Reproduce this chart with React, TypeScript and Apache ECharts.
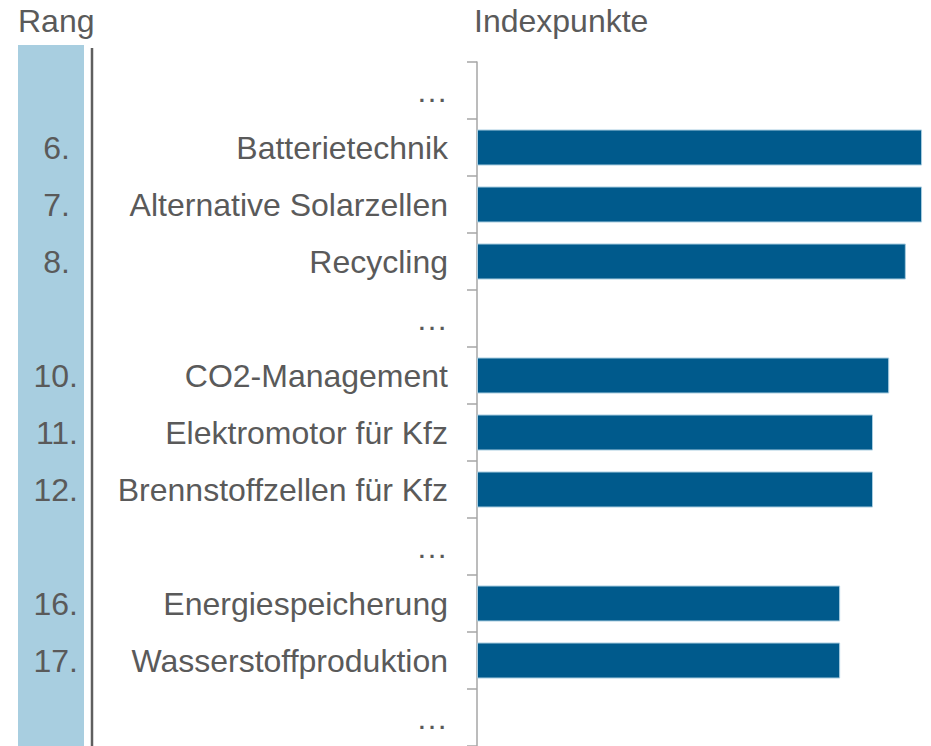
import React, { useEffect, useRef } from "react";
import * as echarts from "echarts";

const categories = [
  "…",
  "Batterietechnik",
  "Alternative Solarzellen",
  "Recycling",
  "…",
  "CO2-Management",
  "Elektromotor für Kfz",
  "Brennstoffzellen für Kfz",
  "…",
  "Energiespeicherung",
  "Wasserstoffproduktion",
  "…",
];
const ranks = ["", "6.", "7.", "8.", "", "10.", "11.", "12.", "", "16.", "17.", ""];
const values: (number | string)[] = ["-", 98.9, 98.9, 95.3, "-", 91.6, 88.0, 88.0, "-", 80.7, 80.7, "-"];

const FONT = "'Liberation Sans', Arial, sans-serif";
const TEXT = "#5A5A5A";
const FS = 32;

export default function App() {
  const ref = useRef<HTMLDivElement>(null);
  useEffect(() => {
    document.body.style.margin = "0";
    const chart = echarts.init(ref.current!, null, { renderer: "svg" });
    chart.setOption({
      animation: false,
      textStyle: { fontFamily: FONT },
      grid: { left: 477, top: 62, width: 450, height: 688, containLabel: false },
      xAxis: { type: "value", min: 0, max: 100, show: false },
      yAxis: [
        {
          type: "category",
          inverse: true,
          data: categories,
          axisLine: { show: true, lineStyle: { color: "#A6A6A6", width: 1.5 } },
          axisTick: { show: true, length: 10, lineStyle: { color: "#A6A6A6", width: 1.5 } },
          axisLabel: { margin: 29, fontSize: FS, color: TEXT, fontFamily: FONT },
          splitLine: { show: false },
        },
        {
          type: "category",
          inverse: true,
          position: "left",
          offset: 397,
          data: ranks,
          axisLine: { show: false },
          axisTick: { show: false },
          axisLabel: {
            margin: 0,
            fontSize: FS,
            color: TEXT,
            fontFamily: FONT,
            formatter: (v: string) => (v.length <= 2 && v ? `{s|${v}}` : `{d|${v}}`),
            rich: {
              s: { fontSize: FS, color: TEXT, fontFamily: FONT, padding: [0, 10, 0, 0] },
              d: { fontSize: FS, color: TEXT, fontFamily: FONT, padding: [0, 2, 0, 0] },
            },
          },
          splitLine: { show: false },
        },
      ],
      series: [
        {
          type: "bar",
          data: values,
          barWidth: 36,
          itemStyle: { color: "#005A8C", borderColor: "#A9CDE0", borderWidth: 1 },
        },
      ],
      graphic: [
        { type: "rect", z: -10, shape: { x: 18, y: 45, width: 66, height: 701 }, style: { fill: "#A8CEE0" } },
        { type: "line", shape: { x1: 92, y1: 48, x2: 92, y2: 746 }, style: { stroke: "#5F5F5F", lineWidth: 2.5 } },
        { type: "text", x: 18, y: 5, style: { text: "Rang", fontSize: FS, fill: TEXT, fontFamily: FONT } },
        { type: "text", x: 474, y: 5, style: { text: "Indexpunkte", fontSize: FS, fill: TEXT, fontFamily: FONT } },
      ],
    });
    return () => chart.dispose();
  }, []);
  return <div ref={ref} style={{ width: 931, height: 746 }} />;
}
